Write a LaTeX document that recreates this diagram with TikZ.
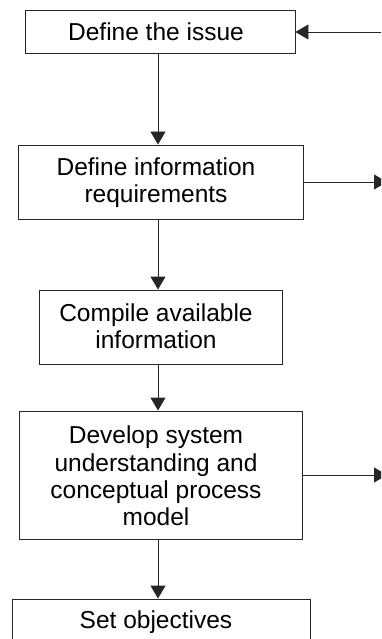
\documentclass[tikz,border=0pt]{standalone}
\usepackage{fontspec}
\setmainfont{Liberation Sans}
\usetikzlibrary{arrows.meta}
\begin{document}
\begin{tikzpicture}[x=1pt,y=-1pt,
  box/.style={draw=black!85, line width=0.9pt, rectangle, inner sep=0pt},
  txt/.style={align=center, inner sep=0pt, font=\fontsize{24.5}{27.3}\selectfont},
  flow/.style={draw=black!85, line width=0.9pt, -{Triangle[length=13pt,width=15pt]}}]
\clip (0,0) rectangle (381,639);
\node[box, minimum width=270pt, minimum height=43pt] (b1) at (160,31.5) {};
\node[txt] (t1) at (156,31.5) {Define the issue};
\node[box, minimum width=285pt, minimum height=74pt] (b2) at (160.5,182) {};
\node[txt] (t2) at (156,183) {Define information\\requirements};
\node[box, minimum width=243pt, minimum height=74pt] (b3) at (160.5,327) {};
\node[txt] (t3) at (156,326) {Compile available\\information};
\node[box, minimum width=283pt, minimum height=128pt] (b4) at (160.5,475) {};
\node[txt] (t4) at (156,476) {Develop system\\understanding and\\conceptual process\\model};
\node[box, minimum width=298pt, minimum height=48pt] (b5) at (161,623) {};
\node[txt] (t5) at (156,622) {Set objectives};
\coordinate (ax) at (158,0);
\coordinate (inR) at (384,32);
\coordinate (out2) at (387,182);
\coordinate (out4) at (387,475);
\draw[flow] (b1.south -| ax) -- (b2.north -| ax);
\draw[flow] (b2.south -| ax) -- (b3.north -| ax);
\draw[flow] (b3.south -| ax) -- (b4.north -| ax);
\draw[flow] (b4.south -| ax) -- (b5.north -| ax);
\draw[flow] (inR) -- (b1.east |- inR);
\draw[flow] (b2.east) -- (out2);
\draw[flow] (b4.east) -- (out4);
\end{tikzpicture}
\end{document}
